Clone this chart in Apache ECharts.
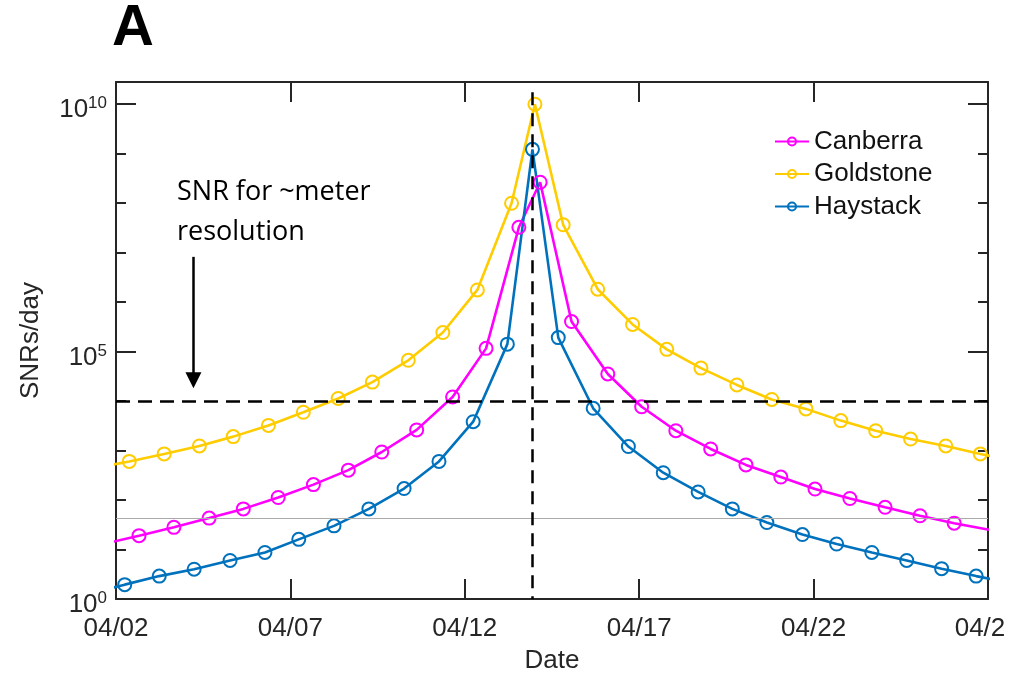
<!DOCTYPE html>
<html><head><meta charset="utf-8">
<script src="https://cdn.jsdelivr.net/npm/echarts@6/dist/echarts.min.js"></script>
<style>html,body{margin:0;padding:0;background:#fff}#c{width:1032px;height:679px}</style>
</head><body><div id="c"></div>
<script>
// ---- data (x = days since 04/02) ----
const xTickDays = [0, 5, 10, 15, 20, 25];
const xTickLabels = ['04/02', '04/07', '04/12', '04/17', '04/22', '04/2'];
const yMajorTicks = [1, 1e5, 1e10];
const yMinorTicks = [1, 1e1, 1e2, 1e3, 1e4, 1e5, 1e6, 1e7, 1e8, 1e9, 1e10];

const seriesNames = ['Canberra', 'Goldstone', 'Haystack'];

const canberraDays = [-0.34, 0.66, 1.66, 2.67, 3.65, 4.65, 5.66, 6.66, 7.62, 8.62, 9.65, 10.61, 11.55, 12.16,
  13.06, 14.10, 15.07, 16.05, 17.05, 18.06, 19.06, 20.04, 21.04, 22.05, 23.05, 24.03, 25.03];
const canberraSNR = [13, 19, 28, 43, 66, 112, 204, 400, 930, 2.6e3, 1.2e4, 1.15e5, 3.2e7, 2.6e8,
  4.0e5, 3.5e4, 7.6e3, 2.5e3, 1.07e3, 510, 290, 166, 107, 71, 48, 34, 25];

const goldstoneDays = [-0.62, 0.38, 1.38, 2.39, 3.36, 4.37, 5.37, 6.37, 7.35, 8.38, 9.37, 10.36, 11.34, 12.01,
  12.82, 13.81, 14.81, 15.79, 16.77, 17.80, 18.80, 19.78, 20.78, 21.78, 22.78, 23.79, 24.78, 25.78];
const goldstoneSNR = [440, 600, 850, 1.23e3, 1.9e3, 3.2e3, 5.9e3, 1.12e4, 2.4e4, 6.6e4, 2.4e5, 1.74e6, 9.8e7, 9.8e9,
  3.6e7, 1.8e6, 3.5e5, 1.1e5, 4.6e4, 2.1e4, 1.07e4, 6.9e3, 4.0e3, 2.5e3, 1.7e3, 1.23e3, 850, 620];

const haystackDays = [-0.75, 0.25, 1.24, 2.24, 3.27, 4.27, 5.24, 6.25, 7.25, 8.26, 9.26, 10.24, 11.22, 11.94,
  12.68, 13.68, 14.69, 15.69, 16.69, 17.67, 18.66, 19.68, 20.66, 21.67, 22.67, 23.67, 24.66, 25.66];
const haystackSNR = [1.3, 1.95, 2.9, 4.0, 6.0, 8.7, 16, 30, 66, 170, 600, 3800, 1.4e5, 1.2e9,
  1.9e5, 7.1e3, 1.2e3, 355, 145, 66, 35, 20, 12.9, 8.7, 6.0, 4.1, 2.9, 2.1];

const meterResolutionSNR = 1e4;     // horizontal dashed line
const referenceLevelSNR = 42;       // thin gray line
const closestApproachDay = 11.93;   // vertical dashed line
const arrowDay = 2.22;
const arrowFromSNR = 8.1e6;
const arrowToSNR = 2.6e4;
const vLineTopSNR = 1.7e10;

const colors = ['#FF00FF', '#FFCC00', '#0072BD'];
const allDays = [canberraDays, goldstoneDays, haystackDays];
const allSNR = [canberraSNR, goldstoneSNR, haystackSNR];

const axisColor = '#262626';
const fontFam = '"Liberation Sans", Arial, sans-serif';
const yMin = 1, yMax = 2.75e10;

function zip(a, b) { return a.map((d, i) => [d, b[i]]); }

function supLabel(v) {
  const e = Math.round(Math.log10(v));
  return '{b|10}{s|' + e + '}';
}

const series = seriesNames.map((name, i) => ({
  name: name,
  type: 'line',
  data: zip(allDays[i], allSNR[i]),
  symbol: 'circle',
  symbolSize: 13,
  showAllSymbol: true,
  clip: true,
  lineStyle: { color: colors[i], width: 2.6 },
  itemStyle: { color: 'rgba(255,255,255,0)', borderColor: colors[i], borderWidth: 2 },
  emphasis: { disabled: true },
  z: 3
}));

series.push({
  name: 'refs',
  type: 'line',
  data: [],
  markLine: {
    silent: true,
    animation: false,
    symbol: 'none',
    label: { show: false },
    data: [
      { yAxis: referenceLevelSNR, lineStyle: { color: '#aaaaaa', width: 1.2, type: 'solid' } },
      { yAxis: meterResolutionSNR, lineStyle: { color: '#000', width: 2.5, type: [14, 8] } },
      [{ coord: [closestApproachDay, vLineTopSNR], lineStyle: { color: '#000', width: 2.5, type: [13, 8] } },
       { coord: [closestApproachDay, yMin] }],
    ]
  },
  z: 4
});
series.push({
  name: 'arrow',
  type: 'line',
  data: [],
  markLine: {
    silent: true,
    animation: false,
    symbol: ['none', 'triangle'],
    symbolSize: 16,
    label: { show: false },
    lineStyle: { color: '#000', width: 2.5, type: 'solid' },
    itemStyle: { color: '#000' },
    data: [[{ coord: [arrowDay, arrowFromSNR] }, { coord: [arrowDay, arrowToSNR] }]]
  },
  z: 4
});

function yAxisDef(pos, major, showLabel, showLine) {
  return {
    type: 'log',
    logBase: 10,
    min: yMin, max: yMax,
    position: pos,
    splitLine: { show: false },
    axisLine: { show: showLine, lineStyle: { color: axisColor, width: 2 } },
    axisTick: {
      show: true, inside: true, length: major ? 20 : 10,
      customValues: major ? yMajorTicks : yMinorTicks,
      lineStyle: { color: axisColor, width: 2 }
    },
    axisLabel: showLabel ? {
      show: true, margin: 9,
      padding: [12, 0, 0, 0],
      customValues: yMajorTicks,
      formatter: supLabel,
      rich: {
        b: { fontSize: 26, fontFamily: fontFam, color: axisColor },
        s: { fontSize: 17, fontFamily: fontFam, color: axisColor, padding: [0, 0, 13, 0] }
      }
    } : { show: false },
    name: showLabel ? 'SNRs/day' : '',
    nameLocation: 'middle',
    nameRotate: 90,
    nameGap: 72,
    nameTextStyle: { fontSize: 26, fontFamily: fontFam, color: axisColor }
  };
}

const option = {
  animation: false,
  backgroundColor: '#fff',
  color: colors,
  grid: { left: 116, right: 44, top: 82, bottom: 76, containLabel: false },
  legend: {
    data: seriesNames,
    orient: 'vertical',
    left: 769, top: 123,
    itemWidth: 34, itemHeight: 10,
    itemGap: 5.5,
    textStyle: { fontSize: 26, lineHeight: 27, fontFamily: fontFam, color: '#111', padding: [0, 0, 0, 0] },
    selectedMode: false
  },
  xAxis: [{
    type: 'value', min: 0, max: 25, interval: 5,
    position: 'bottom',
    splitLine: { show: false },
    axisLine: { show: true, lineStyle: { color: axisColor, width: 2 } },
    axisTick: { show: true, inside: true, length: 20, lineStyle: { color: axisColor, width: 2 } },
    axisLabel: {
      margin: 17, fontSize: 26, fontFamily: fontFam, color: axisColor,
      formatter: function (v) {
        const i = xTickDays.indexOf(v);
        if (i < 0) return '';
        return i === xTickLabels.length - 1 ? '{p|' + xTickLabels[i] + '}' : xTickLabels[i];
      },
      rich: { p: { fontSize: 26, fontFamily: fontFam, color: axisColor, padding: [0, 16, 0, 0] } }
    },
    name: 'Date', nameLocation: 'middle', nameGap: 49,
    nameTextStyle: { fontSize: 26, fontFamily: fontFam, color: axisColor }
  }, {
    type: 'value', min: 0, max: 25, interval: 5,
    position: 'top',
    splitLine: { show: false },
    axisLine: { show: true, lineStyle: { color: axisColor, width: 2 } },
    axisTick: { show: true, inside: true, length: 20, lineStyle: { color: axisColor, width: 2 } },
    axisLabel: { show: false }
  }],
  yAxis: [
    yAxisDef('left', true, true, true),
    yAxisDef('left', false, false, false),
    yAxisDef('right', true, false, true),
    yAxisDef('right', false, false, false)
  ],
  graphic: [
    { type: 'text', left: 112, top: 0, style: { text: 'A', font: 'bold 58px "Liberation Sans"', fill: '#000' } },
    { type: 'text', x: 177, y: 192, style: { text: 'SNR for ~meter', font: '27px "Open Sans"', fill: '#000', verticalAlign: 'middle' } },
    { type: 'text', x: 177, y: 232, style: { text: 'resolution', font: '27px "Open Sans"', fill: '#000', verticalAlign: 'middle' } }
  ],
  series: series
};

const chart = echarts.init(document.getElementById('c'), null, { renderer: 'canvas' });
chart.setOption(option);
</script>
</body></html>
